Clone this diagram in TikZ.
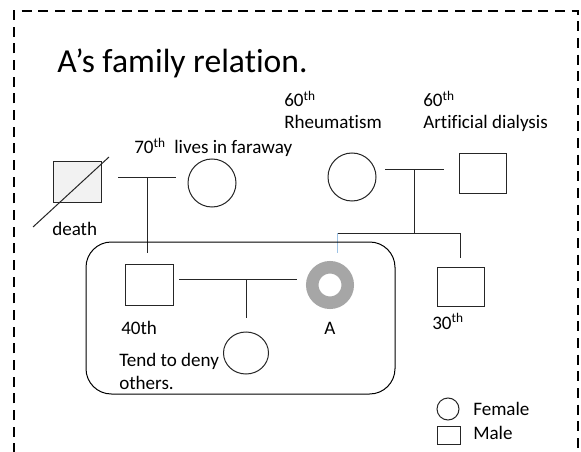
\documentclass[tikz,border=0pt]{standalone}
\usepackage{fontspec}
\setmainfont{Carlito}[Ligatures={NoCommon}]
\usetikzlibrary{shapes.geometric}
\definecolor{ringgray}{HTML}{A6A6A6}
\definecolor{deadfill}{HTML}{F2F2F2}
\definecolor{linkblue}{HTML}{9DC3E6}
\definecolor{ink}{HTML}{262626}
\begin{document}
\begin{tikzpicture}[x=0.75pt,y=-0.75pt,
  lbl/.style={font=\fontsize{14.3pt}{17pt}\selectfont, inner sep=0pt, anchor=base west},
  male/.style={rectangle, draw=ink, line width=0.75pt, inner sep=0pt},
  female/.style={circle, draw=ink, line width=0.75pt, inner sep=0pt},
  link/.style={draw=ink, line width=0.75pt},
  border/.style={draw=black, line width=1.5pt, dash pattern=on 7.5pt off 5pt}]
\useasboundingbox (0,0) rectangle (581,452);
\clip (0,0) rectangle (581,452);
\fill[white] (0,0) rectangle (581,452);
\draw[border] (14,470) -- (14,11) -- (578,11) -- (578,470);

% title
\node[font=\fontsize{25.2pt}{30pt}\selectfont, inner sep=0pt, anchor=base west] (title) at (57,73) {A’s family relation.};

% grandparents (father's side)
\node[male, fill=deadfill, minimum width=36pt, minimum height=30.75pt] (dead) at (77,182.5) {};
\coordinate (dl1) at (33,227);
\coordinate (dl2) at (109,157);
\draw[link] (dl1) -- (dl2);
\node[lbl] (death) at (52,235) {death};
\node[female, minimum size=36pt] (gm) at (212,183) {};
\node[lbl] (gmtxt) at (134,154) {70\textsuperscript{th}\ \ lives in faraway};
\coordinate (m1l) at (118,178);
\coordinate (m1r) at (176,178);
\coordinate (m1) at (147,178);
\coordinate (c1) at (147,253);
\draw[link] (m1l) -- (m1r);
\draw[link] (m1) -- (c1);

% grandparents (mother's side)
\node[female, minimum size=36pt] (mom) at (352,177) {};
\node[lbl] (momage) at (284,107) {60\textsuperscript{th}};
\node[lbl] (momtxt) at (284,129) {Rheumatism};
\node[male, minimum width=35.25pt, minimum height=30pt] (dad) at (482.5,174) {};
\node[lbl] (dadage) at (423,107) {60\textsuperscript{th}};
\node[lbl] (dadtxt) at (423,129) {Artificial dialysis};
\coordinate (m2l) at (385,170);
\coordinate (m2r) at (444,170);
\coordinate (m2) at (414,170);
\coordinate (sib) at (414,233);
\coordinate (sibl) at (337,233);
\coordinate (sibr) at (460,233);
\coordinate (dropl) at (337,253);
\coordinate (dropr) at (460,258);
\draw[link] (m2l) -- (m2r);
\draw[link] (m2) -- (sib);
\draw[link] (sibl) -- (sibr);
\draw[linkblue, line width=0.75pt] (sibl) -- (dropl);
\draw[link] (sibr) -- (dropr);

% brother
\node[male, minimum width=35.25pt, minimum height=29.25pt] (s30) at (460.5,286.5) {};
\node[lbl] (s30txt) at (432,329) {30\textsuperscript{th}};

% family box
\node[draw=black, line width=0.75pt, rounded corners=19pt, minimum width=231.75pt, minimum height=114pt, inner sep=0pt] (fam) at (240.5,318) {};

% husband
\node[male, minimum width=36pt, minimum height=30.75pt] (hus) at (149,284.5) {};
\node[lbl] (hustxt) at (121,334) {40th};
% A
\node[circle, draw=ringgray, line width=9.4pt, minimum size=26.6pt, inner sep=0pt] (A) at (330,285) {};
\node[lbl, anchor=base] (Atxt) at (330,334) {A};
\coordinate (m3l) at (179,279);
\coordinate (m3r) at (297,279);
\coordinate (m3) at (246,279);
\coordinate (c3) at (246,318);
\draw[link] (m3l) -- (m3r);
\draw[link] (m3) -- (c3);
% child
\node[ellipse, draw=ink, line width=0.75pt, inner sep=0pt, minimum width=33.75pt, minimum height=31.5pt] (child) at (246,353) {};
\node[lbl] (childtxt1) at (119,366) {Tend to deny};
\node[lbl] (childtxt2) at (119,389) {others.};

% legend
\node[female, minimum size=16.5pt] (lgf) at (448,409) {};
\node[lbl] (lgftxt) at (473,415) {Female};
\node[male, minimum width=17.25pt, minimum height=13.5pt] (lgm) at (448.5,435) {};
\node[lbl] (lgmtxt) at (473,439) {Male};
\end{tikzpicture}
\end{document}
